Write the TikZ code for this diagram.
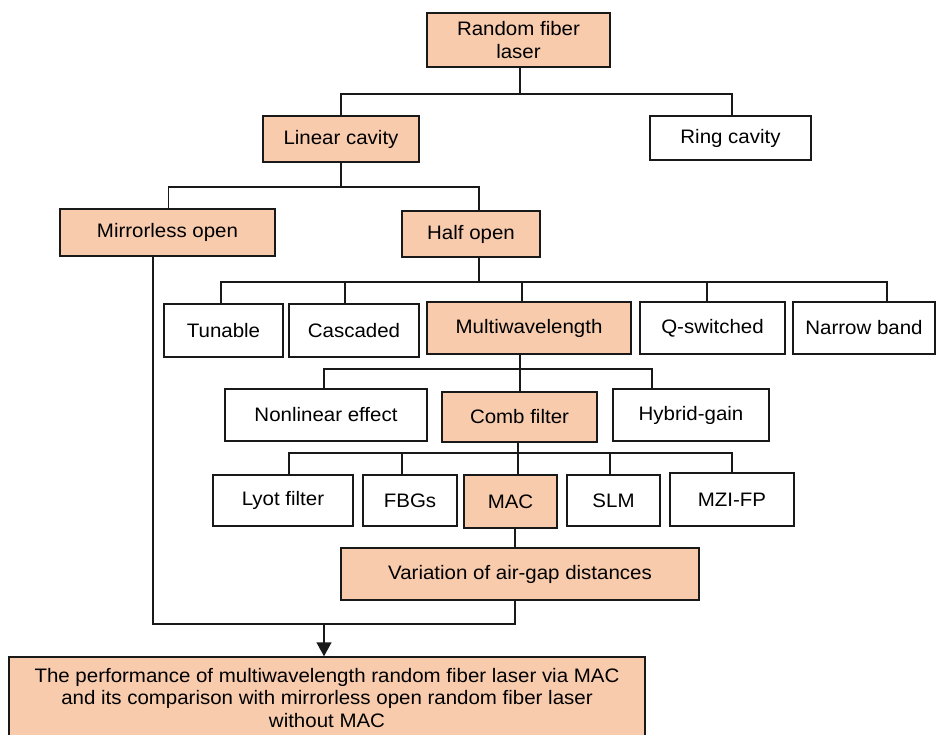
\documentclass[tikz,border=0pt]{standalone}
\usepackage{fontspec}
\setmainfont[FakeStretch=1.05]{Liberation Sans}
\usetikzlibrary{arrows.meta}
\definecolor{peach}{HTML}{F8CBAD}
\begin{document}
\begin{tikzpicture}[x=1pt,y=-1pt,
  font=\fontsize{19.5}{22.5}\selectfont,
  box/.style={draw=black!90, line width=1.5pt, inner sep=0pt, align=center},
  hl/.style={box, fill=peach},
  wb/.style={box, fill=white},
  conn/.style={line width=1.5pt, draw=black!90}]
\useasboundingbox (0,0) rectangle (936,734);
\fill[white] (0,0) rectangle (936,734);

% boxes
\node[hl, minimum width=183pt, minimum height=54pt] (rfl) at (518.5,40) {Random fiber\\laser};
\node[hl, minimum width=156pt, minimum height=46pt] (lin) at (341,139) {Linear cavity};
\node[wb, minimum width=161pt, minimum height=44pt] (ring) at (730.5,138) {Ring cavity};
\node[hl, minimum width=215pt, minimum height=47pt] (mir) at (167.5,232.5) {Mirrorless open};
\node[hl, minimum width=138pt, minimum height=46pt] (half) at (471,234) {Half open};
\node[wb, minimum width=119pt, minimum height=53pt] (tun) at (223.5,330.5) {Tunable};
\node[wb, minimum width=130pt, minimum height=53pt] (cas) at (354,330.5) {Cascaded};
\node[hl, minimum width=204pt, minimum height=52pt] (mul) at (529,328) {Multiwavelength};
\node[wb, minimum width=145pt, minimum height=52pt] (qsw) at (712.5,328) {Q-switched};
\node[wb, minimum width=142pt, minimum height=52pt] (nar) at (864,328) {Narrow band};
\node[wb, minimum width=202pt, minimum height=52pt] (non) at (326,415) {Nonlinear effect};
\node[hl, minimum width=155pt, minimum height=50pt] (comb) at (519.5,417) {Comb filter};
\node[wb, minimum width=156pt, minimum height=52pt] (hyb) at (691,415) {Hybrid-gain};
\node[wb, minimum width=140pt, minimum height=51pt] (lyot) at (283,500.5) {Lyot filter};
\node[wb, minimum width=94pt, minimum height=51pt] (fbg) at (410,500.5) {FBGs};
\node[hl, minimum width=93pt, minimum height=53pt] (mac) at (510.5,501.5) {MAC};
\node[wb, minimum width=93pt, minimum height=51pt] (slm) at (613.5,500.5) {SLM};
\node[wb, minimum width=124pt, minimum height=53pt] (mzi) at (732,499.5) {MZI-FP};
\node[hl, minimum width=358pt, minimum height=52pt] (var) at (520,574) {Variation of air-gap distances};
\node[hl, minimum width=636pt, minimum height=82pt] (fin) at (327,698)
  {The performance of multiwavelength random fiber laser via MAC\\and its comparison with mirrorless open random fiber laser\\without MAC};

% bus levels
\coordinate (b1) at (0,94);
\coordinate (b2) at (0,187);
\coordinate (b3) at (0,282);
\coordinate (b4) at (0,369);
\coordinate (b5) at (0,453);
\coordinate (b6) at (0,624);

% level 1
\draw[conn] ([xshift=1.5pt]rfl.south) -- ([xshift=1.5pt]rfl.south |- b1);
\draw[conn] (lin.north) |- ([xshift=1.5pt]ring.north |- b1) -- ([xshift=1.5pt]ring.north);
% level 2
\draw[conn] (lin.south) -- (lin.south |- b2);
\draw[conn] ([xshift=1pt]mir.north) |- ([xshift=8pt]half.north |- b2) -- ([xshift=8pt]half.north);
% level 3
\draw[conn] ([xshift=8pt]half.south) -- ([xshift=8pt]half.south |- b3);
\draw[conn] ([xshift=-2.5pt]tun.north) |- ([xshift=23pt]nar.north |- b3) -- ([xshift=23pt]nar.north);
\draw[conn] ([xshift=-9pt]cas.north) -- ([xshift=-9pt]cas.north |- b3);
\draw[conn] ([xshift=-7pt]mul.north) -- ([xshift=-7pt]mul.north |- b3);
\draw[conn] ([xshift=-5.5pt]qsw.north) -- ([xshift=-5.5pt]qsw.north |- b3);
% level 4
\draw[conn] ([xshift=-9pt]mul.south) -- ([xshift=-9pt]mul.south |- b4);
\draw[conn] ([xshift=-2pt]non.north) |- ([xshift=-39pt]hyb.north |- b4) -- ([xshift=-39pt]hyb.north);
\draw[conn] ([xshift=0.5pt]comb.north) -- ([xshift=0.5pt]comb.north |- b4);
% level 5
\draw[conn] ([xshift=-1.5pt]comb.south) -- ([xshift=-1.5pt]comb.south |- b5);
\draw[conn] ([xshift=6pt]lyot.north) |- (mzi.north |- b5) -- (mzi.north);
\draw[conn] ([xshift=-8pt]fbg.north) -- ([xshift=-8pt]fbg.north |- b5);
\draw[conn] ([xshift=7.5pt]mac.north) -- ([xshift=7.5pt]mac.north |- b5);
\draw[conn] ([xshift=-3.5pt]slm.north) -- ([xshift=-3.5pt]slm.north |- b5);
% level 6
\draw[conn] ([xshift=-5pt]var.north) -- ([xshift=-5pt]var.north |- mac.south);
% level 7
\draw[conn] ([xshift=-14.5pt]mir.south) |- ([xshift=-5pt]var.south |- b6) -- ([xshift=-5pt]var.south);
\draw[conn, -{Triangle[length=14pt,width=15pt]}] ([xshift=-3pt]fin.north |- b6) -- ([xshift=-3pt]fin.north);
\end{tikzpicture}
\end{document}
